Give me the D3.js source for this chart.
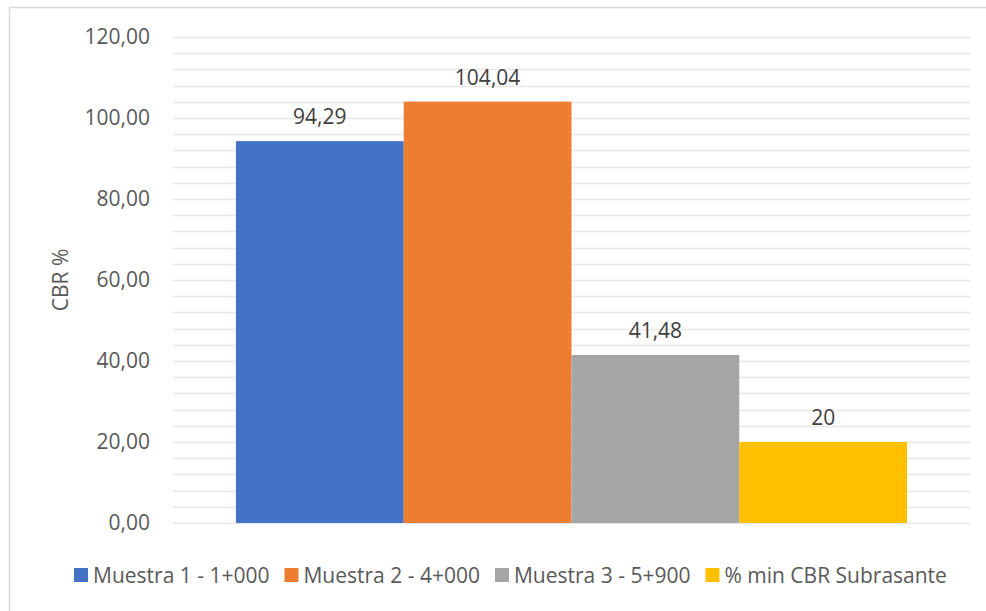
<!DOCTYPE html>
<html>
<head>
<meta charset="utf-8">
<script src="https://cdn.jsdelivr.net/npm/d3@7"></script>
<style>
  body { margin: 0; background: #fff; }
  text { font-family: "Open Sans", sans-serif; }
</style>
</head>
<body>
<div class="canvas"></div>
<script>
// data
const series = ["Muestra 1 - 1+000", "Muestra 2 - 4+000", "Muestra 3 - 5+900", "% min CBR Subrasante"];
const values = [94.29, 104.04, 41.48, 20];
const decimals = [2, 2, 2, 0];
const colors = ["#4472C4", "#ED7D31", "#A5A5A5", "#FFC000"];
const yTicks = [0, 20, 40, 60, 80, 100, 120];
const yLabel = "CBR %";

const W = 986, H = 611;
const plotLeft = 173, plotRight = 970, plotTop = 37, plotBottom = 523;

const es = d3.formatLocale({ decimal: ",", thousands: ".", grouping: [3], currency: ["", "€"] });

const svg = d3.select(".canvas").append("svg")
    .attr("width", W)
    .attr("height", H);

// outer chart border
svg.append("rect")
    .attr("x", 9.5).attr("y", 7.5)
    .attr("width", 1100).attr("height", 800)
    .attr("fill", "none")
    .attr("stroke", "#d9d9d9")
    .attr("stroke-width", 1.5);

const y = d3.scaleLinear().domain([0, 120]).range([plotBottom, plotTop]);

// one category, four series inside it
const x = d3.scaleBand().domain(series).range([plotLeft, plotRight]).paddingInner(0).paddingOuter(0.375);

// gridlines: major every 20, minor every 4
const grid = d3.range(0, 121, 4);
svg.append("g").selectAll("line").data(grid).join("line")
    .attr("x1", plotLeft).attr("x2", plotRight)
    .attr("y1", d => Math.round(y(d)) + 0.5)
    .attr("y2", d => Math.round(y(d)) + 0.5)
    .attr("stroke", "#e8e8e8")
    .attr("stroke-width", 1.5);

// y axis labels
const yAxis = svg.append("g")
    .attr("transform", `translate(${plotLeft - 23},0)`)
    .call(d3.axisLeft(y).tickValues(yTicks).tickSize(0).tickPadding(0).tickFormat(es.format(".2f")));
yAxis.select(".domain").remove();
yAxis.selectAll("text")
    .attr("font-size", 21)
    .attr("font-family", "Open Sans, sans-serif")
    .attr("fill", "#595959");

svg.append("text")
    .attr("transform", `translate(61,${(plotTop + plotBottom) / 2}) rotate(-90)`)
    .attr("text-anchor", "middle")
    .attr("dy", "0.35em")
    .attr("font-size", 21)
    .attr("fill", "#595959")
    .text(yLabel);

// bars
svg.append("g").selectAll("rect").data(values).join("rect")
    .attr("x", (d, i) => x(series[i]))
    .attr("width", x.bandwidth())
    .attr("y", d => y(d))
    .attr("height", d => y(0) - y(d))
    .attr("fill", (d, i) => colors[i]);

// value labels
svg.append("g").selectAll("text").data(values).join("text")
    .attr("x", (d, i) => x(series[i]) + x.bandwidth() / 2)
    .attr("y", d => y(d) - 17)
    .attr("text-anchor", "middle")
    .attr("font-size", 21)
    .attr("fill", "#404040")
    .text((d, i) => es.format("." + decimals[i] + "f")(d));

// legend
const legend = svg.append("g");
let lx = 74;
series.forEach((s, i) => {
    legend.append("rect")
        .attr("x", lx).attr("y", 568)
        .attr("width", 14).attr("height", 14)
        .attr("fill", colors[i]);
    const t = legend.append("text")
        .attr("x", lx + 19).attr("y", 583)
        .attr("font-size", 21)
        .attr("fill", "#595959")
        .text(s);
    lx += 19 + t.node().getComputedTextLength() + 15;
});
</script>
</body>
</html>
